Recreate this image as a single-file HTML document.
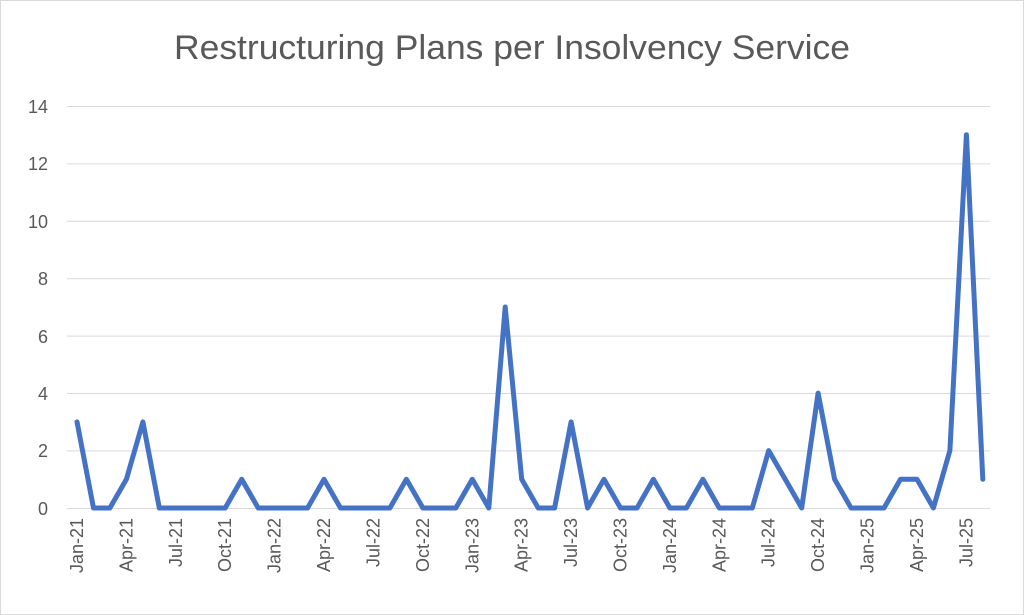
<!DOCTYPE html>
<html><head><meta charset="utf-8"><style>
html,body{margin:0;padding:0;background:#fff}
svg{display:block}
text{font-family:"Liberation Sans",sans-serif;fill:#595959}
</style></head><body>
<svg width="1024" height="615" viewBox="0 0 1024 615" xmlns="http://www.w3.org/2000/svg">
<rect x="0.5" y="0.5" width="1023" height="614" fill="#fff" stroke="#d9d9d9"/>
<text x="512" y="59" font-size="34" text-anchor="middle" textLength="676" lengthAdjust="spacingAndGlyphs">Restructuring Plans per Insolvency Service</text>
<g stroke="#d9d9d9" stroke-width="1">
<line x1="67" x2="990" y1="106.5" y2="106.5"/>
<line x1="67" x2="990" y1="163.9" y2="163.9"/>
<line x1="67" x2="990" y1="221.3" y2="221.3"/>
<line x1="67" x2="990" y1="278.7" y2="278.7"/>
<line x1="67" x2="990" y1="336.1" y2="336.1"/>
<line x1="67" x2="990" y1="393.5" y2="393.5"/>
<line x1="67" x2="990" y1="450.9" y2="450.9"/>
<line x1="67" x2="990" y1="508.5" y2="508.5"/>
</g>
<g font-size="18" text-anchor="end">
<text x="48" y="515">0</text><text x="48" y="457">2</text><text x="48" y="400">4</text>
<text x="48" y="343">6</text><text x="48" y="285">8</text><text x="48" y="228">10</text>
<text x="48" y="170">12</text><text x="48" y="113">14</text>
</g>
<g id="xl" font-size="18" text-anchor="end"></g>
<polyline id="ln" fill="none" stroke="#4472c4" stroke-width="5" stroke-linejoin="round" stroke-linecap="round" points=""/>
</svg>
<script>
var d=[3,0,0,1,3,0,0,0,0,0,1,0,0,0,0,1,0,0,0,0,1,0,0,0,1,0,7,1,0,0,3,0,1,0,0,1,0,0,1,0,0,0,2,1,0,4,1,0,0,0,1,1,0,2,13,1];
var x0=77,dx=16.47,y0=508,sy=402/14,p=[];
d.forEach(function(v,i){p.push((x0+i*dx).toFixed(1)+","+(y0-v*sy).toFixed(1));});
document.getElementById("ln").setAttribute("points",p.join(" "));
var m=["Jan","Apr","Jul","Oct"],g=document.getElementById("xl"),ns="http://www.w3.org/2000/svg";
for(var i=0;i<56;i+=3){var t=document.createElementNS(ns,"text");var x=x0+i*dx+6;
t.setAttribute("transform","translate("+x.toFixed(1)+",518) rotate(-90)");
t.textContent=m[(i/3)%4]+"-"+(21+Math.floor(i/12));g.appendChild(t);}
</script>
</body></html>
